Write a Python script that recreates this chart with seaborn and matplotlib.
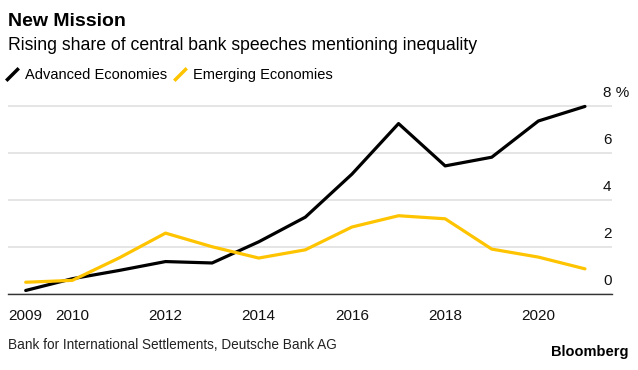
import matplotlib
matplotlib.use('Agg')
import matplotlib.pyplot as plt
import matplotlib.transforms as mtransforms
from matplotlib.lines import Line2D
import pandas as pd
import seaborn as sns

# data (% of speeches)
years = [2009, 2010, 2011, 2012, 2013, 2014, 2015, 2016, 2017, 2018, 2019, 2020, 2021]
advanced = [0.15, 0.65, 1.0, 1.38, 1.32, 2.22, 3.27, 5.10, 7.25, 5.45, 5.82, 7.36, 7.98]
emerging = [0.5, 0.58, 1.53, 2.59, 2.01, 1.53, 1.88, 2.85, 3.33, 3.2, 1.91, 1.57, 1.07]
series_names = ['Advanced Economies', 'Emerging Economies']
colors = ['#000000', '#ffc400']
x_ticks = [2009, 2010, 2012, 2014, 2016, 2018, 2020]
y_ticks = [0, 2, 4, 6, 8]
y_labels = ['0', '2', '4', '6', '8 %']

df = pd.DataFrame({
    'year': years * 2,
    'value': advanced + emerging,
    'series': [series_names[0]] * len(years) + [series_names[1]] * len(years),
})

sns.set_style('white')
plt.rcParams['font.family'] = ['Liberation Sans', 'DejaVu Sans']
plt.rcParams['text.color'] = 'black'
plt.rcParams['xtick.labelcolor'] = '#111111'

fig = plt.figure(figsize=(6.38, 3.70), dpi=100)
ax = fig.add_axes([8 / 638, 0.2054, 604 / 638, 0.54])

sns.lineplot(data=df, x='year', y='value', hue='series', palette=colors,
             linewidth=2.3, ax=ax, legend=False, clip_on=False, zorder=3)

ax.set_xlim(2008.62, 2021.58)
ax.set_ylim(0, 8.5)
ax.set_xticks(x_ticks)
ax.set_xticklabels([str(x) for x in x_ticks], fontsize=11)
ax.set_yticks(y_ticks)
ax.set_yticklabels([])
ax.tick_params(axis='x', direction='out', length=5, width=1, color='#333333', pad=6)
ax.tick_params(axis='y', length=0)
ax.yaxis.grid(True, color='#e3e3e3', linewidth=1.3)
ax.xaxis.grid(False)
for s in ['left', 'right', 'top']:
    ax.spines[s].set_visible(False)
ax.spines['bottom'].set_color('#333333')
ax.spines['bottom'].set_linewidth(1)
ax.set_xlabel('')
ax.set_ylabel('')

# y labels sit above their gridlines on the right
trans = mtransforms.blended_transform_factory(fig.transFigure, ax.transData)
for yv, lab in zip(y_ticks, y_labels):
    ax.text(603 / 638, yv + 0.55, lab, transform=trans, fontsize=11,
            ha='left', va='center', color='#111111')

fig.text(8 / 638, 1 - 22 / 370, 'New Mission', fontsize=14, fontweight='bold',
         va='center', ha='left')
fig.text(8 / 638, 1 - 45 / 370, 'Rising share of central bank speeches mentioning inequality',
         fontsize=12.7, va='center', ha='left')

handles = [Line2D([], [], color=c, marker=[(-1, -1), (1, 1)], markersize=9,
                  markeredgewidth=2.5, linestyle='none') for c in colors]
fig.legend(handles, series_names, loc='center left',
           bbox_to_anchor=(0.0, 1 - 75 / 370), ncol=2, frameon=False,
           fontsize=10.5, handlelength=0.8, handletextpad=0.5,
           columnspacing=0.5, borderaxespad=0)

fig.text(8 / 638, 1 - 345 / 370, 'Bank for International Settlements, Deutsche Bank AG',
         fontsize=9.8, va='center', ha='left', color='#222222')
fig.text(628 / 638, 1 - 352 / 370, 'Bloomberg', fontsize=10.5, fontweight='bold',
         va='center', ha='right')

fig.savefig('out.png', dpi=100)
